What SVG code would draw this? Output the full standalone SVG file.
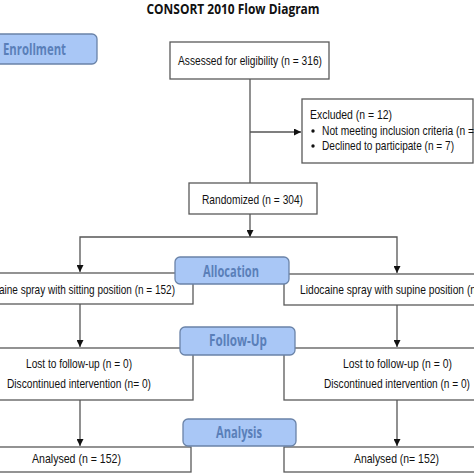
<svg xmlns="http://www.w3.org/2000/svg" width="474" height="474" viewBox="0 0 474 474">
<style>
.box{fill:#fff;stroke:#595959;stroke-width:1.3}
.hdr{fill:#a9c7f6;stroke:#6a83a8;stroke-width:1.3}
.ht{font-family:"Open Sans","Liberation Sans",sans-serif;font-weight:bold;font-size:15.5px;fill:#5a7fb9}
.t{font-family:"Liberation Sans",Arial,sans-serif;font-size:13.5px;fill:#111}
.c{fill:none;stroke:#555;stroke-width:1.3}
</style>
<defs>
<marker id="ah" viewBox="0 0 10 10" refX="10" refY="5" markerWidth="7" markerHeight="7" markerUnits="userSpaceOnUse" orient="auto">
<path d="M0,0 L10,5 L0,10 z" fill="#111"/>
</marker>
</defs>
<rect width="474" height="474" fill="#fff"/>
<text x="233" y="14" text-anchor="middle" font-family="Open Sans, Liberation Sans, sans-serif" font-weight="bold" font-size="14" fill="#111" textLength="173" lengthAdjust="spacingAndGlyphs">CONSORT 2010 Flow Diagram</text>

<g id="connectors">
<path class="c" d="M250,79 V183"/>
<path class="c" d="M250,132 H301" marker-end="url(#ah)"/>
<path class="c" d="M250,214 V237" marker-end="url(#ah)"/>
<path class="c" d="M250,237 H80 V272" marker-end="url(#ah)"/>
<path class="c" d="M250,237 H397 V273" marker-end="url(#ah)"/>
<path class="c" d="M80,304 V347" marker-end="url(#ah)"/>
<path class="c" d="M397,305 V347" marker-end="url(#ah)"/>
<path class="c" d="M80,400 V446" marker-end="url(#ah)"/>
<path class="c" d="M397,400 V446" marker-end="url(#ah)"/>
</g>

<g id="enrollment">
<rect class="hdr" x="-10" y="34" width="107" height="30" rx="5"/>
<text class="ht" x="3" y="55" textLength="63" lengthAdjust="spacingAndGlyphs">Enrollment</text>
</g>

<g id="assessed">
<rect class="box" x="170" y="42" width="159" height="37"/>
<text class="t" x="178" y="65" textLength="144" lengthAdjust="spacingAndGlyphs">Assessed for eligibility (n = 316)</text>
</g>

<g id="excluded">
<rect class="box" x="302" y="99" width="171" height="64"/>
<text class="t" x="310" y="119" textLength="82" lengthAdjust="spacingAndGlyphs">Excluded  (n = 12)</text>
<circle cx="313" cy="131" r="1.7" fill="#111"/>
<text class="t" x="322" y="135" textLength="152" lengthAdjust="spacingAndGlyphs">Not meeting inclusion criteria (n =</text>
<circle cx="313" cy="146" r="1.7" fill="#111"/>
<text class="t" x="322" y="150" textLength="132" lengthAdjust="spacingAndGlyphs">Declined to participate (n = 7)</text>
</g>

<g id="randomized">
<rect class="box" x="189" y="183" width="128" height="31"/>
<text class="t" x="202" y="204" textLength="101" lengthAdjust="spacingAndGlyphs">Randomized (n = 304)</text>
</g>

<g id="alloc-left">
<rect class="box" x="-10" y="273" width="203" height="31"/>
<text class="t" x="-1" y="294" textLength="176" lengthAdjust="spacingAndGlyphs">aine spray with sitting position (n = 152)</text>
</g>

<g id="alloc-right">
<rect class="box" x="284" y="274" width="200" height="31"/>
<text class="t" x="300" y="294" textLength="176" lengthAdjust="spacingAndGlyphs">Lidocaine spray with supine position (n</text>
</g>

<g id="allocation">
<rect class="hdr" x="175" y="257" width="114" height="27" rx="5"/>
<text class="ht" x="203" y="277" textLength="56" lengthAdjust="spacingAndGlyphs">Allocation</text>
</g>

<g id="follow-left">
<rect class="box" x="-10" y="348" width="203" height="52"/>
<text class="t" x="26" y="368" textLength="106" lengthAdjust="spacingAndGlyphs">Lost to follow-up (n = 0)</text>
<text class="t" x="7" y="388" textLength="144" lengthAdjust="spacingAndGlyphs">Discontinued intervention (n= 0)</text>
</g>

<g id="follow-right">
<rect class="box" x="284" y="348" width="200" height="52"/>
<text class="t" x="343" y="368" textLength="109" lengthAdjust="spacingAndGlyphs">Lost to follow-up (n = 0)</text>
<text class="t" x="324" y="388" textLength="146" lengthAdjust="spacingAndGlyphs">Discontinued intervention (n = 0)</text>
</g>

<g id="followup">
<rect class="hdr" x="180" y="327" width="115" height="28" rx="5"/>
<text class="ht" x="209" y="346" textLength="58" lengthAdjust="spacingAndGlyphs">Follow-Up</text>
</g>

<g id="analysed-left">
<rect class="box" x="-10" y="447" width="201" height="25"/>
<text class="t" x="32" y="463" textLength="89" lengthAdjust="spacingAndGlyphs">Analysed  (n = 152)</text>
</g>

<g id="analysed-right">
<rect class="box" x="284" y="447" width="200" height="25"/>
<text class="t" x="354" y="463" textLength="85" lengthAdjust="spacingAndGlyphs">Analysed  (n= 152)</text>
</g>

<g id="analysis">
<rect class="hdr" x="183" y="419" width="113" height="27" rx="5"/>
<text class="ht" x="216" y="438" textLength="46" lengthAdjust="spacingAndGlyphs">Analysis</text>
</g>
</svg>
